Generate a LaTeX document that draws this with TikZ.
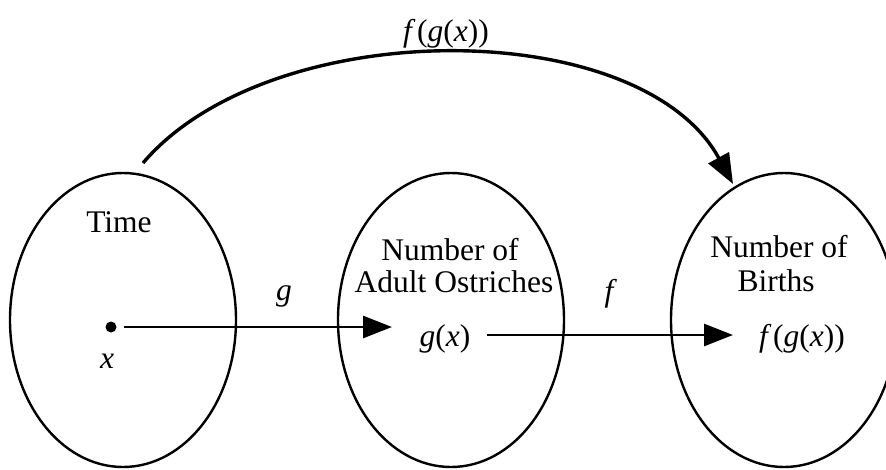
\documentclass[tikz,border=0pt]{standalone}
\usepackage{fontspec}
\setmainfont{Liberation Serif}
\usetikzlibrary{shapes.geometric,arrows.meta}
\begin{document}
\begin{tikzpicture}[x=1pt,y=-1pt,
  setbox/.style={draw,line width=2.4pt,ellipse,minimum width=226pt,minimum height=294pt,inner sep=0pt},
  lbl/.style={font=\fontsize{31.5}{33}\selectfont,inner sep=0pt,anchor=base,align=center},
  arr/.style={line width=2.8pt,-{Triangle[length=29pt,width=22pt]}},
  arcarr/.style={line width=3.4pt,-{Triangle[length=30pt,width=23pt]}}]
\useasboundingbox (0,0) rectangle (886,469);
\node[setbox] (time) at (123,320) {};
\node[setbox] (ostr) at (451,320) {};
\node[setbox] (births) at (784,320) {};
\node[lbl] (tlabel) at (119,232) {Time};
\node[lbl] (olabel1) at (450,260) {Number of};
\node[lbl] (olabel2) at (454,292) {Adult Ostriches};
\node[lbl] (blabel1) at (779,257) {Number of};
\node[lbl] (blabel2) at (776,291) {Births};
\node[circle,fill,inner sep=0pt,minimum size=11pt] (xdot) at (111,327) {};
\node[lbl] (xlab) at (107,368) {\itshape x};
\node[lbl] (glab) at (284,300) {\itshape g};
\node[lbl] (flab) at (609,301) {\itshape f};
\node[lbl] (gx) at (445,346) {{\itshape g}({\itshape x})};
\node[lbl] (fgx) at (802,346) {{\itshape f\,}({\itshape g}({\itshape x}))};
\node[lbl] (toplab) at (446,41) {{\itshape f\,}({\itshape g}({\itshape x}))};
\coordinate (gtip) at (392,327);
\coordinate (fstart) at (487,335);
\coordinate (ftip) at (733,335);
\coordinate (arcstart) at (143,163);
\coordinate (arctip) at (733,184);
\draw[arr,shorten <=13pt] (xdot.center) -- (gtip);
\draw[arr] (fstart) -- (ftip);
\draw[arcarr] (arcstart) .. controls (270,14) and (640,14) .. (arctip);
\end{tikzpicture}
\end{document}
